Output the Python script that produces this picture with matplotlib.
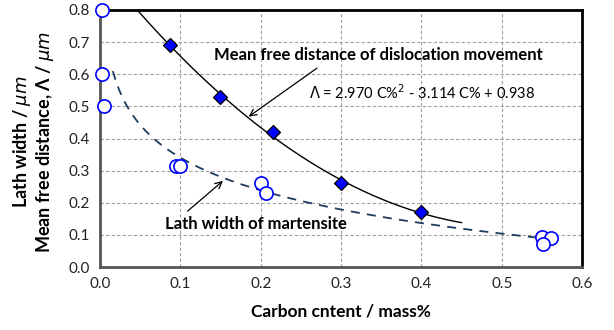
import numpy as np
import matplotlib
matplotlib.use("Agg")
import matplotlib.pyplot as plt

plt.rcParams['font.family'] = ['Lato', 'DejaVu Sans']
plt.rcParams['mathtext.fontset'] = 'dejavusans'

# lath width of martensite (open circles)
lath_c = [0.003, 0.0025, 0.005, 0.095, 0.100, 0.200, 0.206, 0.550, 0.561, 0.551]
lath_w = [0.800, 0.600, 0.500, 0.315, 0.315, 0.260, 0.229, 0.094, 0.091, 0.072]

# mean free distance of dislocation movement (diamonds)
mfd_c = [0.087, 0.149, 0.215, 0.300, 0.400]
mfd_v = [0.690, 0.530, 0.419, 0.260, 0.170]

# trendlines
mfd_coef = [2.970, -3.114, 0.938]      # polynomial, C% range 0 - 0.45
mfd_range = [0.0, 0.45]
lath_log = [-0.147, 0.002]              # a*ln(C) + b, C% range 0.016 - 0.56
lath_range = [0.016, 0.56]

xticks = [0.0, 0.1, 0.2, 0.3, 0.4, 0.5, 0.6]
yticks = [0.0, 0.1, 0.2, 0.3, 0.4, 0.5, 0.6, 0.7, 0.8]


def arrow(ax, start, tip):
    ax.annotate('', xy=tip, xytext=start,
                arrowprops=dict(arrowstyle='->', color='black', lw=0.9,
                                shrinkA=0, shrinkB=0, mutation_scale=12))


def main():
    fig = plt.figure(figsize=(6.14, 3.30), dpi=100)
    ax = fig.add_axes([0.1629, 0.1909, 0.7851, 0.7788])

    ax.set_xlim(0, 0.6)
    ax.set_ylim(0, 0.8)
    ax.set_xticks(xticks)
    ax.set_yticks(yticks)
    ax.set_xticklabels([f"{t:.1f}" for t in xticks])
    ax.set_yticklabels([f"{t:.1f}" for t in yticks])
    ax.tick_params(length=0, labelsize=11, pad=7, colors='#222222')
    ax.grid(True, linestyle=(0, (3, 2)), color='#a0a0a0', linewidth=0.8)
    ax.set_axisbelow(True)

    for side in ['left', 'bottom']:
        ax.spines[side].set_color('#555555')
        ax.spines[side].set_linewidth(2.0)
    for side in ['top', 'right']:
        ax.spines[side].set_color('black')
        ax.spines[side].set_linewidth(2.0)

    xs = np.linspace(mfd_range[0], mfd_range[1], 200)
    ax.plot(xs, np.polyval(mfd_coef, xs), color='black', lw=1.0, zorder=3)

    xl = np.linspace(lath_range[0], lath_range[1], 200)
    ax.plot(xl, lath_log[0] * np.log(xl) + lath_log[1], color='#1f3a5f',
            lw=1.3, linestyle=(0, (5, 4)), zorder=3)

    ax.plot(mfd_c, mfd_v, linestyle='none', marker='D', markersize=7.5,
            markerfacecolor='#0000ff', markeredgecolor='black',
            markeredgewidth=0.9, zorder=4)
    ax.plot(lath_c, lath_w, linestyle='none', marker='o', markersize=9.5,
            markerfacecolor='white', markeredgecolor='#0000ff',
            markeredgewidth=1.2, zorder=5, clip_on=False)

    ax.text(0.346, 0.660, 'Mean free distance of dislocation movement',
            ha='center', va='center', fontsize=12, fontweight='bold')
    arrow(ax, (0.270, 0.619), (0.185, 0.468))
    ax.text(0.401, 0.542, r"$\mathit{\Lambda}$ = 2.970 C%$^{2}$ - 3.114 C% + 0.938",
            ha='center', va='center', fontsize=10.5)

    ax.text(0.194, 0.134, 'Lath width of martensite',
            ha='center', va='center', fontsize=12, fontweight='bold')
    arrow(ax, (0.109, 0.174), (0.153, 0.268))

    ax.set_xlabel('Carbon cntent / mass%', fontsize=12.5, fontweight='bold',
                  labelpad=9)
    fig.text(0.036, 0.57, r'Lath width / $\mu m$', rotation=90,
             ha='center', va='center', fontsize=13, fontweight='bold')
    fig.text(0.073, 0.57, r'Mean free distance, Λ / $\mu m$', rotation=90,
             ha='center', va='center', fontsize=13, fontweight='bold')

    fig.savefig('out.png', dpi=100)


if __name__ == "__main__":
    main()
